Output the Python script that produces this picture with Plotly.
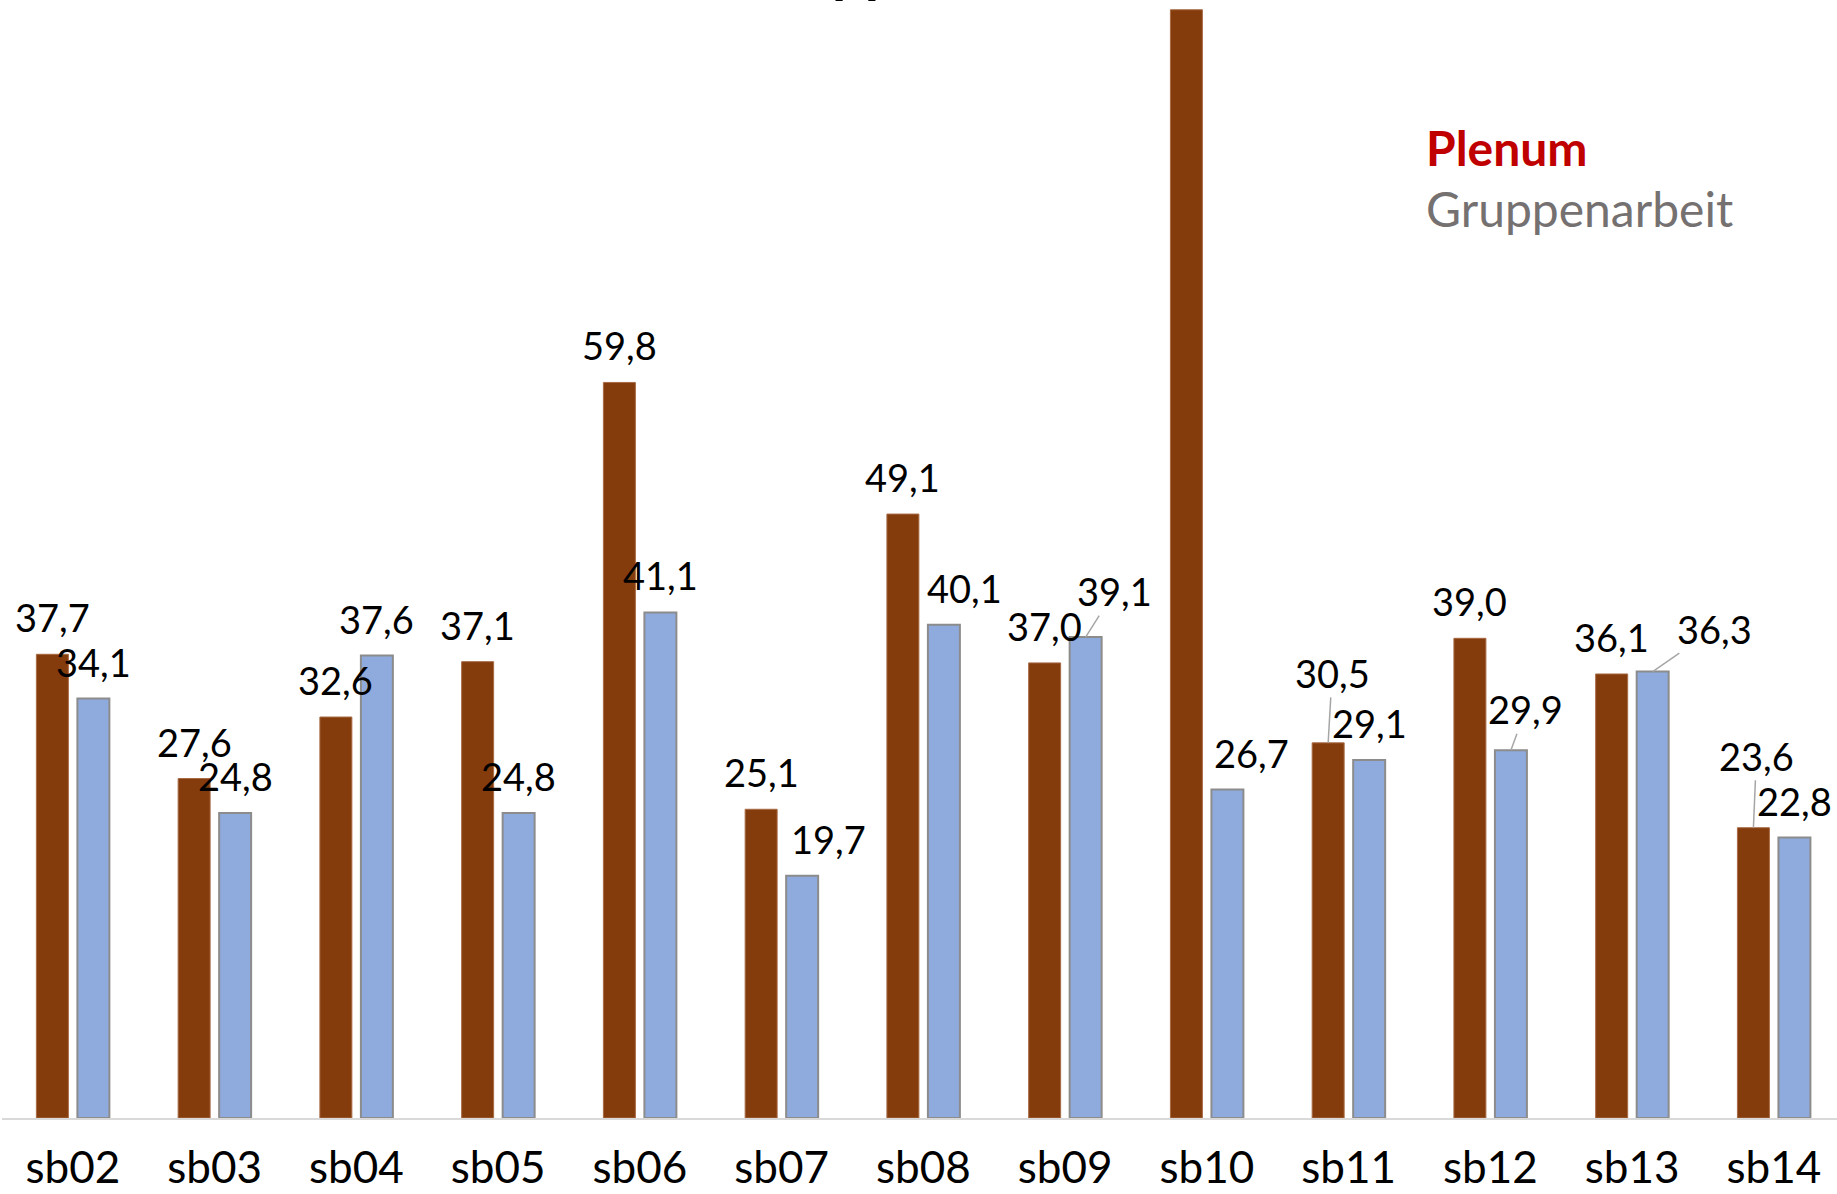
import plotly.graph_objects as go

# ---------------- data ----------------
categories = ["sb02", "sb03", "sb04", "sb05", "sb06", "sb07", "sb08",
              "sb09", "sb10", "sb11", "sb12", "sb13", "sb14"]
plenum = [37.7, 27.6, 32.6, 37.1, 59.8, 25.1, 49.1, 37.0, 90.1, 30.5, 39.0, 36.1, 23.6]
gruppenarbeit = [34.1, 24.8, 37.6, 24.8, 41.1, 19.7, 40.1, 39.1, 26.7, 29.1, 29.9, 36.3, 22.8]
series_names = ["Plenum", "Gruppenarbeit"]
title_text = "Plenum, Gruppenarbeit (in min)"

# label placement (pixel offsets of label centre relative to bar top)
# (dx, dy, leader_line); "skip" = label lies off-canvas in the reference
DEF = (0, -37, False)
plenum_label_pos = [DEF, DEF, DEF, DEF, DEF, DEF, DEF, DEF, "skip",
                    (4, -70, True), DEF, DEF, (3, -72, True)]
gruppen_label_pos = [DEF, DEF, DEF, DEF, DEF, (26, -37, False), (21, -37, False),
                     (29, -46, True), (24, -37, False), DEF, (15, -41, True),
                     (62, -43, True), DEF]

BROWN = "#843C0C"
BLUE = "#8FAADC"
FONT = "Lato"


def fmt(v):
    return f"{v:.1f}".replace(".", ",")


fig = go.Figure()
fig.add_trace(go.Bar(
    x=categories, y=plenum, name=series_names[0],
    marker=dict(color=BROWN, line=dict(color="#A86A45", width=1)),
    hoverinfo="x+y",
))
fig.add_trace(go.Bar(
    x=categories, y=gruppenarbeit, name=series_names[1],
    marker=dict(color=BLUE, line=dict(color="#8C8C8C", width=2)),
    hoverinfo="x+y",
))

annotations = []
for values, positions, bar_shift in ((plenum, plenum_label_pos, -20.5),
                                     (gruppenarbeit, gruppen_label_pos, 20.5)):
    for cat, v, pos in zip(categories, values, positions):
        if pos == "skip":
            continue
        dx, dy, leader = pos
        base = dict(x=cat, y=v, xref="x", yref="y", text=fmt(v),
                    font=dict(family=FONT, size=38, color="#000000"))
        if leader:
            annotations.append(dict(base, xshift=bar_shift, showarrow=True,
                                    ax=dx, ay=dy, arrowhead=0, arrowwidth=1.5,
                                    arrowcolor="#A6A6A6", standoff=0))
        else:
            annotations.append(dict(base, xshift=bar_shift + dx, yshift=-dy,
                                    showarrow=False, xanchor="center",
                                    yanchor="middle"))

# legend as coloured text
annotations.append(dict(text="<b>Plenum</b>", xref="paper", yref="paper",
                        x=1422 / 1835, y=(1118 - 147) / 1118, xanchor="left",
                        yanchor="middle", showarrow=False,
                        font=dict(family=FONT, size=48, color="#C00000")))
annotations.append(dict(text="Gruppenarbeit", xref="paper", yref="paper",
                        x=1422 / 1835, y=(1118 - 209) / 1118, xanchor="left",
                        yanchor="middle", showarrow=False,
                        font=dict(family=FONT, size=48, color="#767171")))
# title (cropped at top edge in reference)
annotations.append(dict(text="<b>" + title_text + "</b>", xref="paper", yref="paper",
                        x=0.497, y=1, xanchor="center", yanchor="bottom",
                        yshift=-5, showarrow=False,
                        font=dict(family=FONT, size=58, color="#000000")))

fig.update_layout(
    width=1837, height=1194,
    margin=dict(l=2, r=0, t=0, b=76),
    paper_bgcolor="white", plot_bgcolor="white",
    barmode="group", bargap=0.4215, bargroupgap=0.22,
    showlegend=False,
    annotations=annotations,
    font=dict(family=FONT, color="#000000"),
    xaxis=dict(range=[-0.5, 12.445], showline=True, linecolor="#D9D9D9",
               linewidth=2, showgrid=False, ticks="", zeroline=False,
               ticklabelstandoff=10, automargin=False,
               tickfont=dict(family=FONT, size=44, color="#000000")),
    yaxis=dict(range=[0, 1118 / 12.3], visible=False, showgrid=False,
               zeroline=False, automargin=False),
)

fig.write_html("out.html")
